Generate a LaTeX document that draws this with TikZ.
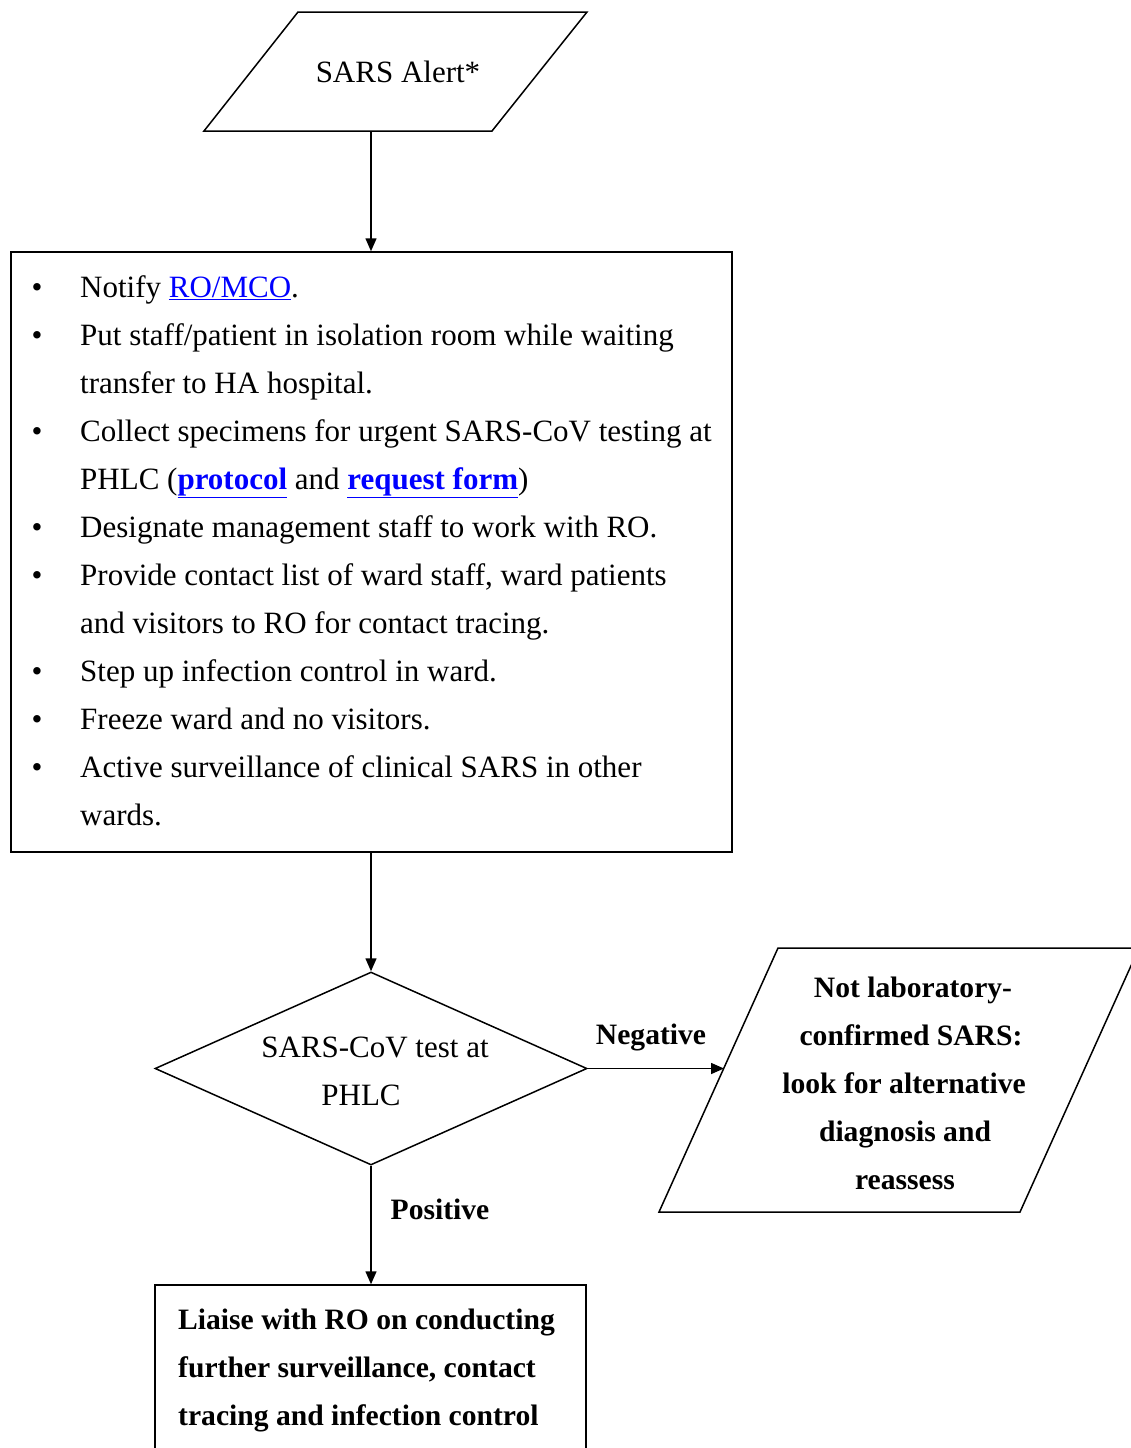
\documentclass[tikz,border=0pt]{standalone}
\usepackage{fontspec}
\setmainfont{Liberation Serif}
\usetikzlibrary{arrows.meta,shapes.geometric,calc}
\definecolor{linkblue}{RGB}{0,0,255}
\newcommand\lnk[1]{\textcolor{linkblue}{\underline{#1}}}
\begin{document}
\begin{tikzpicture}[x=1pt,y=-1pt,
  shapeline/.style={draw, line width=1.5pt},
  conn/.style={line width=1.5pt, -{Triangle[length=13pt,width=11pt]}},
  txt/.style={inner sep=0pt, font=\fontsize{31}{48}\selectfont},
  btxt/.style={inner sep=0pt, font=\fontsize{29.6}{48}\selectfont\bfseries},
  bul/.style={inner sep=0pt, anchor=base, font=\fontsize{31}{48}\selectfont},
  line/.style={txt, anchor=base west},
]
\clip (0,0) rectangle (1131,1448);
\fill[white] (0,0) rectangle (1131,1448);

% ---- top parallelogram
\coordinate (a1) at (298,12);
\coordinate (a2) at (587,12);
\coordinate (a3) at (492,131);
\coordinate (a4) at (204,131);
\draw[shapeline] (a1) -- (a2) -- (a3) -- (a4) -- cycle;
\coordinate (alertbot) at (371,131);
\node[txt, anchor=base] (alerttxt) at (398,82) {SARS Alert*};

% ---- main box
\node[shapeline, rectangle, minimum width=721pt, minimum height=600pt, inner sep=0pt] (box1) at (371.5,552) {};
\foreach \i/\y in {b1/297,b2/345,b3/441,b4/537,b5/585,b6/681,b7/729,b8/777}
  \node[bul] (\i) at (37,\y) {\textbullet};
\node[line] (l1) at (80,297) {Notify \lnk{RO/MCO}.};
\node[line] (l2) at (80,345) {Put staff/patient in isolation room while waiting};
\node[line] (l3) at (80,393) {transfer to HA hospital.};
\node[line] (l4) at (80,441) {Collect specimens for urgent SARS-CoV testing at};
\node[line] (l5) at (80,489) {PHLC (\lnk{\textbf{protocol}} and \lnk{\textbf{request form}})};
\node[line] (l6) at (80,537) {Designate management staff to work with RO.};
\node[line] (l7) at (80,585) {Provide contact list of ward staff, ward patients};
\node[line] (l8) at (80,633) {and visitors to RO for contact tracing.};
\node[line] (l9) at (80,681) {Step up infection control in ward.};
\node[line] (l10) at (80,729) {Freeze ward and no visitors.};
\node[line] (l11) at (80,777) {Active surveillance of clinical SARS in other};
\node[line] (l12) at (80,825) {wards.};

% ---- diamond
\node[shapeline, diamond, minimum width=432pt, minimum height=193pt, inner sep=0pt] (dia) at (371,1068.5) {};
\node[txt, anchor=base] (d1) at (375,1057) {SARS-CoV test at};
\node[txt, anchor=base] (d2) at (361,1105) {PHLC};

% ---- right parallelogram
\coordinate (r1) at (778,948);
\coordinate (r2) at (1139,948);
\coordinate (r3) at (1020,1212);
\coordinate (r4) at (659,1212);
\draw[shapeline] (r1) -- (r2) -- (r3) -- (r4) -- cycle;
\coordinate (negend) at (724,1068.5);
\node[btxt, anchor=base] (n1) at (913,997) {Not laboratory-};
\node[btxt, anchor=base] (n2) at (911,1045) {confirmed SARS:};
\node[btxt, anchor=base] (n3) at (904,1093) {look for alternative};
\node[btxt, anchor=base] (n4) at (905,1141) {diagnosis and};
\node[btxt, anchor=base] (n5) at (905,1189) {reassess};

% ---- bottom box
\node[shapeline, rectangle, minimum width=431pt, minimum height=220pt, inner sep=0pt] (box3) at (370.5,1395) {};
\node[btxt, anchor=base west] (f1) at (178,1329) {Liaise with RO on conducting};
\node[btxt, anchor=base west] (f2) at (178,1377) {further surveillance, contact};
\node[btxt, anchor=base west] (f3) at (178,1425) {tracing and infection control};

% ---- connectors
\draw[conn] (alertbot) -- (alertbot |- box1.north);
\draw[conn] (dia.north |- box1.south) -- (dia.north);
\draw[conn] (dia.east) -- (negend);
\draw[conn] (dia.south) -- (dia.south |- box3.north);

% ---- labels
\node[btxt, anchor=base] (neg) at (651,1044) {Negative};
\node[btxt, anchor=base] (pos) at (440,1219) {Positive};
\end{tikzpicture}
\end{document}
